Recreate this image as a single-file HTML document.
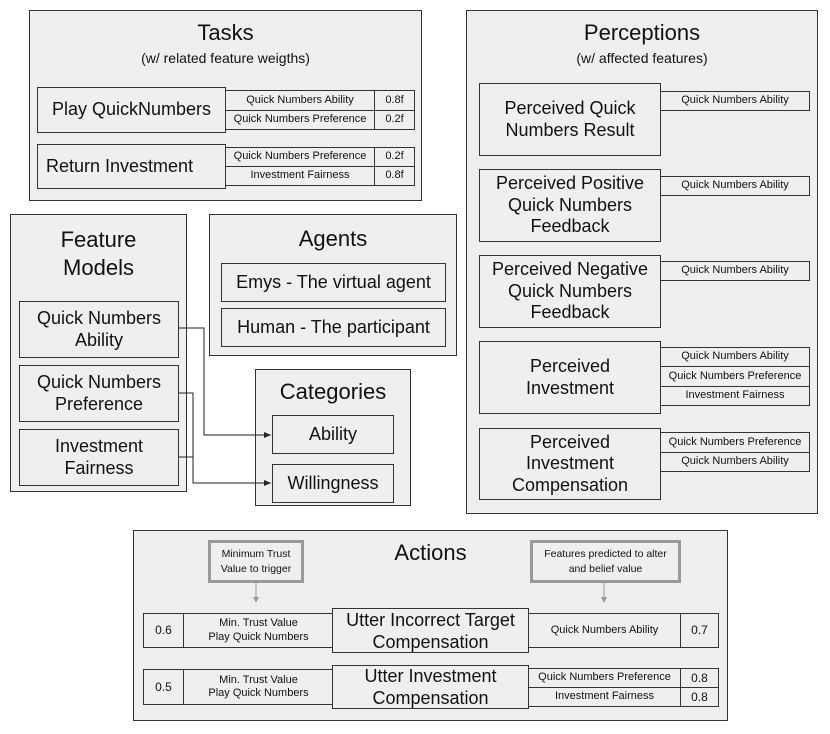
<!DOCTYPE html>
<html><head><meta charset="utf-8"><style>
body{margin:0;width:830px;height:734px;background:#fff;position:relative;font-family:"Liberation Sans",Arial,sans-serif;color:#111;overflow:hidden}
.b{position:absolute;box-sizing:border-box;border:1px solid #333;background:#efefef;display:flex;align-items:center;justify-content:center;text-align:center;line-height:1.2}
.p{position:absolute;box-sizing:border-box;border:1px solid #333;background:#efefef}
.t{position:absolute;text-align:center;line-height:1.2}
.s{font-size:11px}
.m{font-size:18px}
.n{position:absolute;box-sizing:border-box;border:3px solid #999;background:#efefef;display:flex;align-items:center;justify-content:center;text-align:center;font-size:10.5px;line-height:1.35}
</style></head><body>
<!-- Tasks -->
<div class="p" style="left:29px;top:10px;width:393px;height:191px"></div>
<div class="t" style="left:29px;top:20px;width:393px;font-size:22px">Tasks</div>
<div class="t" style="left:29px;top:50px;width:393px;font-size:14px">(w/ related feature weigths)</div>
<div class="b m" style="left:37px;top:87px;width:189px;height:46px">Play QuickNumbers</div>
<div class="b s" style="left:225px;top:90px;width:150px;height:21px">Quick Numbers Ability</div>
<div class="b s" style="left:374px;top:90px;width:41px;height:21px">0.8f</div>
<div class="b s" style="left:225px;top:110px;width:150px;height:20px">Quick Numbers Preference</div>
<div class="b s" style="left:374px;top:110px;width:41px;height:20px">0.2f</div>
<div class="b m" style="left:37px;top:144px;width:189px;height:45px;justify-content:flex-start;padding-left:8px">Return Investment</div>
<div class="b s" style="left:225px;top:147px;width:150px;height:20px">Quick Numbers Preference</div>
<div class="b s" style="left:374px;top:147px;width:41px;height:20px">0.2f</div>
<div class="b s" style="left:225px;top:166px;width:150px;height:20px">Investment Fairness</div>
<div class="b s" style="left:374px;top:166px;width:41px;height:20px">0.8f</div>

<!-- Perceptions -->
<div class="p" style="left:466px;top:10px;width:352px;height:504px"></div>
<div class="t" style="left:466px;top:20px;width:352px;font-size:22px">Perceptions</div>
<div class="t" style="left:466px;top:50px;width:352px;font-size:14px">(w/ affected features)</div>
<div class="b m" style="left:479px;top:83px;width:182px;height:73px">Perceived Quick<br>Numbers Result</div>
<div class="b s" style="left:660px;top:91px;width:150px;height:20px">Quick Numbers Ability</div>
<div class="b m" style="left:479px;top:169px;width:182px;height:73px">Perceived Positive<br>Quick Numbers<br>Feedback</div>
<div class="b s" style="left:660px;top:176px;width:150px;height:20px">Quick Numbers Ability</div>
<div class="b m" style="left:479px;top:255px;width:182px;height:73px">Perceived Negative<br>Quick Numbers<br>Feedback</div>
<div class="b s" style="left:660px;top:261px;width:150px;height:20px">Quick Numbers Ability</div>
<div class="b m" style="left:479px;top:341px;width:182px;height:73px">Perceived<br>Investment</div>
<div class="b s" style="left:660px;top:347px;width:150px;height:20px">Quick Numbers Ability</div>
<div class="b s" style="left:660px;top:366px;width:150px;height:21px">Quick Numbers Preference</div>
<div class="b s" style="left:660px;top:386px;width:150px;height:20px">Investment Fairness</div>
<div class="b m" style="left:479px;top:428px;width:182px;height:72px">Perceived<br>Investment<br>Compensation</div>
<div class="b s" style="left:660px;top:432px;width:150px;height:21px">Quick Numbers Preference</div>
<div class="b s" style="left:660px;top:452px;width:150px;height:20px">Quick Numbers Ability</div>

<!-- Feature Models -->
<div class="p" style="left:10px;top:214px;width:177px;height:278px"></div>
<div class="t" style="left:10px;top:226px;width:177px;font-size:22px;line-height:28px">Feature<br>Models</div>
<div class="b m" style="left:19px;top:301px;width:160px;height:57px">Quick Numbers<br>Ability</div>
<div class="b m" style="left:19px;top:365px;width:160px;height:57px">Quick Numbers<br>Preference</div>
<div class="b m" style="left:19px;top:429px;width:160px;height:57px">Investment<br>Fairness</div>

<!-- Agents -->
<div class="p" style="left:209px;top:214px;width:248px;height:142px"></div>
<div class="t" style="left:209px;top:226px;width:248px;font-size:22px">Agents</div>
<div class="b m" style="left:221px;top:263px;width:225px;height:39px">Emys - The virtual agent</div>
<div class="b m" style="left:221px;top:308px;width:225px;height:39px">Human - The participant</div>

<!-- Categories -->
<div class="p" style="left:255px;top:369px;width:156px;height:137px"></div>
<div class="t" style="left:255px;top:379px;width:156px;font-size:22px">Categories</div>
<div class="b m" style="left:272px;top:415px;width:122px;height:39px">Ability</div>
<div class="b m" style="left:272px;top:464px;width:122px;height:39px">Willingness</div>

<svg style="position:absolute;left:0;top:0" width="830" height="734">
<defs><marker id="a" markerWidth="8" markerHeight="8" refX="7" refY="4" orient="auto"><path d="M0,1 L7,4 L0,7z" fill="#222"/></marker>
<marker id="g" markerWidth="8" markerHeight="8" refX="4" refY="6" orient="auto-start-reverse"><path d="M1,0 L4,6 L7,0z" fill="#999"/></marker></defs>
<g fill="none" stroke="#222" stroke-width="1">
<path d="M179 328 H204 V435 H271" marker-end="url(#a)"/>
<path d="M179 393 H193 V483 H271" marker-end="url(#a)"/>
<path d="M179 457 H193"/>
</g>
</svg>

<!-- Actions -->
<div class="p" style="left:133px;top:530px;width:595px;height:191px"></div>
<div class="t" style="left:133px;top:540px;width:595px;font-size:22px">Actions</div>
<div class="n" style="left:208px;top:540px;width:96px;height:43px">Minimum Trust<br>Value to trigger</div>
<div class="n" style="left:530px;top:540px;width:151px;height:43px">Features predicted to alter<br>and belief value</div>
<svg style="position:absolute;left:0;top:0" width="830" height="734"><g stroke="#999" stroke-width="1">
<path d="M256 583 V598"/><path d="M604 583 V598"/></g>
<path d="M253 597 L256 603 L259 597z" fill="#999"/><path d="M601 597 L604 603 L607 597z" fill="#999"/></svg>

<div class="b" style="left:143px;top:613px;width:41px;height:35px;font-size:12px">0.6</div>
<div class="b s" style="left:183px;top:613px;width:151px;height:35px">Min. Trust Value<br>Play Quick Numbers</div>
<div class="b m" style="left:332px;top:608px;width:197px;height:45px;line-height:22px">Utter Incorrect Target<br>Compensation</div>
<div class="b s" style="left:528px;top:613px;width:153px;height:35px">Quick Numbers Ability</div>
<div class="b" style="left:680px;top:613px;width:39px;height:35px;font-size:12px">0.7</div>

<div class="b" style="left:143px;top:669px;width:41px;height:36px;font-size:12px">0.5</div>
<div class="b s" style="left:183px;top:669px;width:151px;height:36px">Min. Trust Value<br>Play Quick Numbers</div>
<div class="b m" style="left:332px;top:665px;width:197px;height:44px;line-height:22px">Utter Investment<br>Compensation</div>
<div class="b s" style="left:528px;top:668px;width:153px;height:20px">Quick Numbers Preference</div>
<div class="b" style="left:680px;top:668px;width:39px;height:20px;font-size:12px">0.8</div>
<div class="b s" style="left:528px;top:687px;width:153px;height:20px">Investment Fairness</div>
<div class="b" style="left:680px;top:687px;width:39px;height:20px;font-size:12px">0.8</div>
</body></html>
